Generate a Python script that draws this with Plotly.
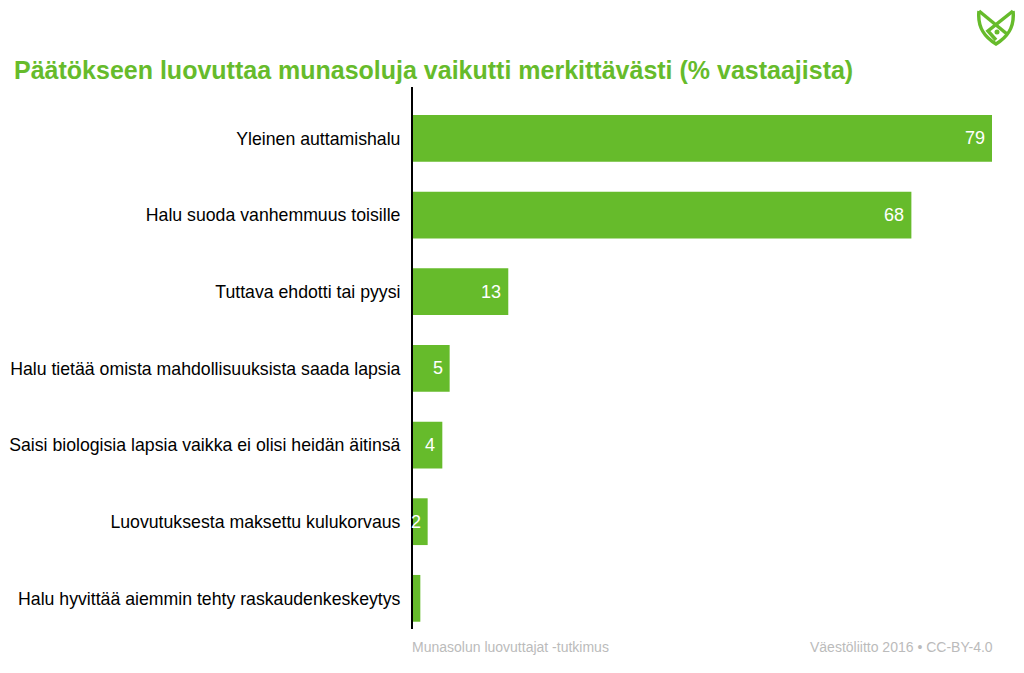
import plotly.graph_objects as go

categories = [
    "Yleinen auttamishalu",
    "Halu suoda vanhemmuus toisille",
    "Tuttava ehdotti tai pyysi",
    "Halu tietää omista mahdollisuuksista saada lapsia",
    "Saisi biologisia lapsia vaikka ei olisi heidän äitinsä",
    "Luovutuksesta maksettu kulukorvaus",
    "Halu hyvittää aiemmin tehty raskaudenkeskeytys",
]
values = [79, 68, 13, 5, 4, 2, 1]
shown_labels = ["79", "68", "13", "5", "4", "2", ""]

title_text = "Päätökseen luovuttaa munasoluja vaikutti merkittävästi (% vastaajista)"
source_left = "Munasolun luovuttajat -tutkimus"
source_right = "Väestöliitto 2016 • CC-BY-4.0"

GREEN = "#66BB2B"
FONT = "Liberation Sans, Arial, sans-serif"

fig = go.Figure()
fig.add_trace(go.Bar(
    x=values, y=categories, orientation="h",
    marker=dict(color=GREEN, line=dict(width=0)),
    width=0.61, hoverinfo="x+y",
))

ann = []
for cat, v, lab in zip(categories, values, shown_labels):
    if lab:
        ann.append(dict(
            x=v, y=cat, xref="x", yref="y", text=lab, showarrow=False,
            xanchor="right", xshift=-5, font=dict(color="white", size=18, family=FONT),
        ))

ann.append(dict(x=0, y=1, xref="paper", yref="paper", xshift=-401, yshift=17,
                text="<b>%s</b>" % title_text, showarrow=False, xanchor="left", yanchor="middle",
                font=dict(color=GREEN, size=25, family=FONT)))
ann.append(dict(x=0, y=0, xref="paper", yref="paper", xshift=-3, yshift=-18, text=source_left,
                showarrow=False, xanchor="left", yanchor="middle",
                font=dict(color="#BBBBBB", size=14, family=FONT)))
ann.append(dict(x=1, y=0, xref="paper", yref="paper", xshift=3, yshift=-18, text=source_right,
                showarrow=False, xanchor="right", yanchor="middle",
                font=dict(color="#BBBBBB", size=14, family=FONT)))

fig.update_layout(
    width=1016, height=665,
    margin=dict(l=405, r=32, t=79, b=44, autoexpand=False),
    paper_bgcolor="white", plot_bgcolor="white",
    showlegend=False,
    font=dict(family=FONT, size=17.7, color="#000000"),
    xaxis=dict(range=[0, max(values)], visible=False, fixedrange=True),
    yaxis=dict(range=[6.4, -0.67], automargin=False, showgrid=False, showline=True,
               linecolor="black", linewidth=2, ticks="", ticklabelstandoff=7,
               fixedrange=True, tickfont=dict(size=17.7, color="#000000")),
    annotations=ann,
)

# logo (decorative), coordinates in screen pixels mapped to paper
def px(xp, yp):
    return ((xp - 413) / (992 - 413), (629 - yp) / (629 - 87))

def P(x, y):
    a, b = px(x, y)
    return "%f,%f" % (a, b)

outer = ("M " + P(979, 11) + " C " + P(977, 29) + " " + P(986, 38) + " " + P(996, 44)
         + " C " + P(1006, 38) + " " + P(1015, 29) + " " + P(1013, 11))
fig.add_shape(type="path", xref="paper", yref="paper", path=outer,
              line=dict(color=GREEN, width=3.5))
inner1 = "M " + P(979, 11) + " L " + P(1007, 34)
inner2 = "M " + P(1013, 11) + " L " + P(988, 31) + " L " + P(996, 40)
for pth in (inner1, inner2):
    fig.add_shape(type="path", xref="paper", yref="paper", path=pth,
                  line=dict(color=GREEN, width=3.5))
cx, cy = px(997, 32)
fig.add_shape(type="circle", xref="paper", yref="paper",
              x0=cx - 2.5 / 579, x1=cx + 2.5 / 579, y0=cy - 2.5 / 542, y1=cy + 2.5 / 542,
              fillcolor=GREEN, line=dict(width=0))

fig.write_html("out.html")
